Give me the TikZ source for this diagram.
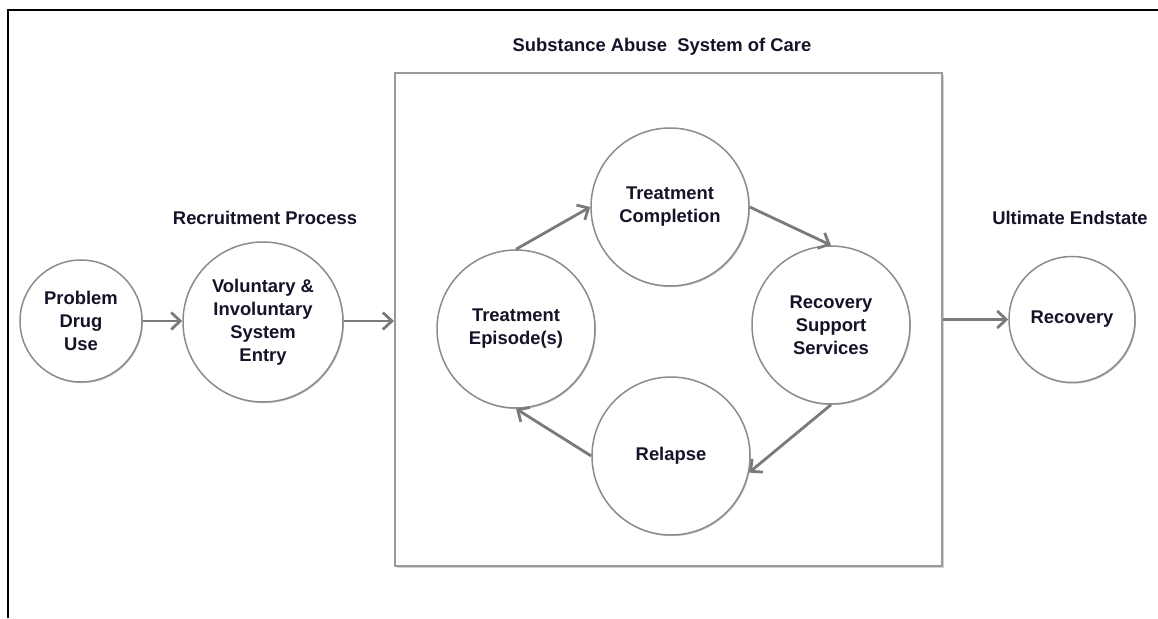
\documentclass[tikz,border=0pt]{standalone}
\usepackage{fontspec}
\setmainfont{Liberation Sans}
\usetikzlibrary{arrows.meta,shadows}
\definecolor{arrgray}{HTML}{7A7A7A}
\definecolor{circgray}{HTML}{8C8C8C}
\definecolor{boxgray}{HTML}{9A9A9A}
\definecolor{txt}{HTML}{141428}
\begin{document}
\begin{tikzpicture}[x=1pt,y=-1pt,
  every node/.style={font=\fontsize{18.4}{23}\selectfont\bfseries, text=txt},
  bub/.style={circle, draw=circgray, line width=1.5pt, fill=white, align=center, inner sep=0pt,
    drop shadow={shadow xshift=1pt, shadow yshift=-1.2pt, opacity=0.22, fill=black}},
  flow/.style={draw=arrgray, line width=2.8pt, -{Straight Barb[length=9pt,width=17pt,line width=2.8pt]}},
  ttl/.style={anchor=center}]
\useasboundingbox (0,0) rectangle (1158,618);
% frame
\draw[line width=2pt, black] (8,618) -- (8,10) -- (1160,10);
% system of care box
\node[draw=boxgray, line width=2.2pt, fill=white, minimum width=547pt, minimum height=493pt, inner sep=0pt,
  drop shadow={shadow xshift=1.5pt, shadow yshift=-1.5pt, opacity=0.18, fill=black}] (soc) at (668.5,319.5) {};
% titles
\node[ttl] (t1) at (662,47) {Substance Abuse~ System of Care};
\node[ttl] (t2) at (265,218) {Recruitment Process};
\node[ttl] (t3) at (1070,218) {Ultimate Endstate};
% circles
\node[bub, minimum size=122pt] (prob) at (81,321) {Problem\\Drug\\Use};
\node[bub, minimum size=160pt] (vol) at (263,322) {Voluntary \&\\Involuntary\\System\\Entry};
\node[bub, minimum size=158pt] (epi) at (516,329) {Treatment\\Episode(s)};
\node[bub, minimum size=158pt] (comp) at (670,207) {Treatment\\Completion};
\node[bub, minimum size=158pt] (rss) at (831,325) {Recovery\\Support\\Services};
\node[bub, minimum size=158pt] (rel) at (671,456) {Relapse};
\node[bub, minimum size=126pt] (rec) at (1072,319.5) {Recovery};
% connectors
\draw[flow] (prob.east) -- (vol.west |- prob.east);
\draw[flow] (vol.east |- prob.east) -- (soc.west |- prob.east);
\draw[flow] (soc.east |- rec.west) -- (rec.west);
\draw[flow] (epi.north) -- (comp.west);
\draw[flow] (comp.east) -- (rss.north);
\draw[flow] (rss.south) -- (rel.-12);
\draw[flow] (rel.west) -- (epi.south);
\end{tikzpicture}
\end{document}
